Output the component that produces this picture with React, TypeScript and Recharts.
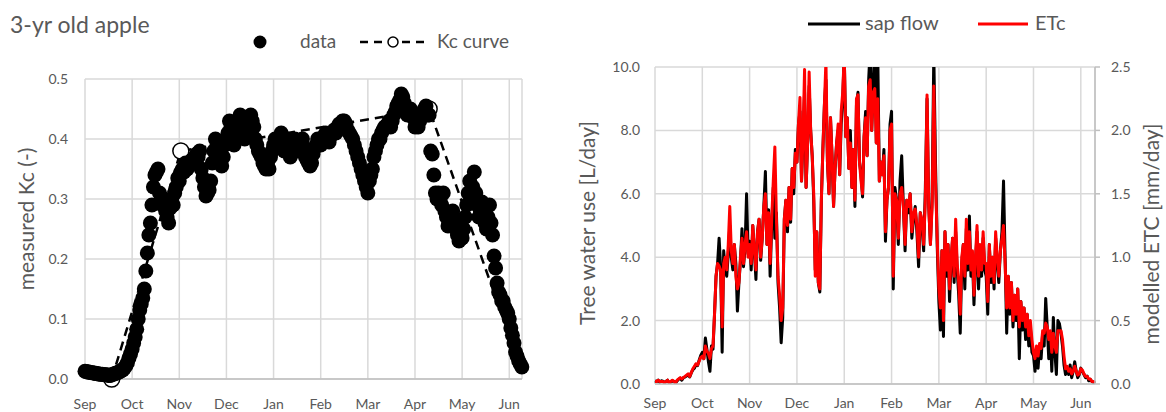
import React from 'react';
import { ComposedChart, Scatter, Line, XAxis, YAxis, CartesianGrid } from 'recharts';

// season runs from 1 Sep to early Jun, one value per day
const MONTHS = ['Sep', 'Oct', 'Nov', 'Dec', 'Jan', 'Feb', 'Mar', 'Apr', 'May', 'Jun'];
const MONTH_LENGTH = [30, 31, 30, 31, 31, 28, 31, 30, 31, 30];

// measured Kc (-), daily
const kcMeasured = [
  0.013, 0.012, 0.012, 0.011, 0.011, 0.010, 0.010, 0.009, 0.009, 0.008, 0.008, 0.008, 0.007, 0.007, 0.007, 0.006, 0.006, 0.007, 0.008, 0.009, 0.010, 0.011, 0.012, 0.014, 0.015, 0.018, 0.022, 0.027, 0.035, 0.042,
  0.050, 0.060, 0.070, 0.083, 0.100, 0.115, 0.125, 0.135, 0.150, 0.180, 0.210, 0.240, 0.260, 0.290, 0.320, 0.340, 0.345, 0.350, 0.310, 0.295, 0.290, 0.300, 0.280, 0.270, 0.260, 0.285, 0.300, 0.290, 0.310, 0.320, 0.335,
  0.330, 0.345, 0.350, 0.345, 0.360, 0.350, 0.355, 0.360, 0.365, 0.360, 0.370, 0.375, 0.370, 0.380, 0.350, 0.335, 0.320, 0.305, 0.310, 0.315, 0.330, 0.360, 0.380, 0.400, 0.390, 0.370, 0.360, 0.355, 0.370, 0.390,
  0.400, 0.410, 0.430, 0.420, 0.400, 0.390, 0.410, 0.420, 0.430, 0.440, 0.430, 0.420, 0.400, 0.410, 0.420, 0.435, 0.440, 0.430, 0.420, 0.400, 0.390, 0.380, 0.375, 0.370, 0.360, 0.355, 0.350, 0.360, 0.350, 0.370, 0.380,
  0.390, 0.400, 0.385, 0.390, 0.400, 0.410, 0.390, 0.380, 0.390, 0.400, 0.385, 0.370, 0.380, 0.395, 0.400, 0.390, 0.380, 0.385, 0.395, 0.400, 0.385, 0.370, 0.365, 0.360, 0.355, 0.360, 0.375, 0.385, 0.390, 0.400, 0.395,
  0.390, 0.400, 0.405, 0.410, 0.400, 0.395, 0.405, 0.410, 0.415, 0.410, 0.420, 0.425, 0.425, 0.430, 0.430, 0.425, 0.415, 0.410, 0.405, 0.400, 0.390, 0.380, 0.370, 0.360, 0.350, 0.340, 0.330, 0.320,
  0.310, 0.330, 0.340, 0.350, 0.370, 0.380, 0.390, 0.400, 0.400, 0.410, 0.415, 0.420, 0.420, 0.425, 0.430, 0.420, 0.430, 0.440, 0.445, 0.455, 0.460, 0.465, 0.475, 0.470, 0.460, 0.450, 0.440, 0.445, 0.450, 0.440, 0.435,
  0.420, 0.425, 0.420, 0.430, 0.440, 0.445, 0.450, 0.455, 0.440, 0.440, 0.380, 0.375, 0.340, 0.310, 0.300, 0.310, 0.300, 0.290, 0.310, 0.280, 0.270, 0.255, 0.260, 0.270, 0.280, 0.265, 0.250, 0.240, 0.230, 0.235,
  0.235, 0.250, 0.270, 0.290, 0.310, 0.330, 0.300, 0.320, 0.345, 0.310, 0.290, 0.270, 0.280, 0.295, 0.280, 0.260, 0.250, 0.270, 0.290, 0.260, 0.240, 0.205, 0.185, 0.160, 0.145, 0.140, 0.130, 0.130, 0.120, 0.115, 0.110,
  0.100, 0.085, 0.073, 0.060, 0.045, 0.038, 0.030, 0.025, 0.020,
];

// Kc curve break points: [month index, day of month], value
const kcCurveDates = [[0, 18], [2, 2], [7, 10], [9, 8]];
const kcCurveValues = [0.0, 0.38, 0.45, 0.02];

// tree water use from sap flow [L/day], daily
const sapFlow = [
  0.10, 0.08, 0.12, 0.06, 0.10, 0.09, 0.05, 0.08, 0.12, 0.04, 0.06, 0.10, 0.08, 0.03, 0.10, 0.15, 0.18, 0.12, 0.20, 0.22, 0.25, 0.30, 0.22, 0.35, 0.45, 0.50, 0.62, 0.58, 0.75, 0.90,
  1.00, 0.80, 1.45, 1.10, 0.70, 0.40, 1.20, 1.10, 2.20, 3.40, 3.80, 4.60, 3.70, 1.00, 4.20, 3.60, 3.40, 4.10, 5.00, 4.00, 3.60, 4.40, 3.80, 2.30, 3.20, 3.90, 4.90, 3.70, 4.30, 6.00, 4.10,
  4.50, 3.60, 5.00, 4.20, 3.30, 4.80, 5.20, 3.90, 4.60, 5.60, 6.70, 4.40, 5.50, 3.40, 5.00, 6.20, 4.60, 5.40, 3.20, 2.40, 1.30, 2.10, 5.20, 5.80, 4.80, 6.20, 5.10, 6.80, 6.00, 7.40,
  7.00, 8.20, 8.60, 6.40, 7.80, 9.20, 6.20, 7.60, 9.40, 8.00, 7.20, 5.80, 3.60, 4.80, 3.20, 2.90, 5.80, 7.40, 8.80, 9.60, 7.00, 6.00, 8.40, 7.20, 5.60, 6.80, 7.60, 8.00, 6.60, 8.20, 9.00,
  10.40, 7.80, 8.40, 6.80, 8.00, 6.20, 7.40, 5.60, 8.80, 9.20, 7.00, 6.60, 5.90, 7.80, 8.60, 7.20, 9.60, 10.60, 8.00, 9.40, 10.80, 7.60, 10.30, 6.40, 7.00, 6.60, 7.40, 4.50, 5.80, 6.20, 8.20,
  8.60, 3.00, 6.20, 5.80, 4.40, 6.40, 7.20, 5.60, 4.20, 5.80, 5.40, 6.00, 4.60, 5.20, 5.60, 4.80, 3.70, 5.40, 5.00, 4.20, 6.20, 9.00, 5.60, 4.40, 5.80, 10.40, 7.00, 4.40,
  2.60, 1.70, 4.20, 1.50, 4.80, 3.40, 4.40, 2.60, 3.80, 4.60, 3.20, 4.80, 3.60, 2.80, 1.60, 3.80, 4.40, 3.00, 4.90, 3.60, 5.30, 3.40, 4.00, 2.50, 3.80, 4.80, 3.00, 4.20, 3.40, 4.60, 3.60,
  3.40, 2.20, 4.40, 3.20, 4.00, 3.00, 4.60, 3.80, 3.20, 4.20, 4.80, 6.40, 4.00, 1.60, 3.40, 2.20, 3.20, 1.80, 2.80, 2.00, 3.00, 0.80, 2.60, 1.70, 2.40, 1.40, 2.20, 1.20, 1.80, 1.00,
  0.90, 0.40, 1.00, 0.50, 1.20, 0.80, 1.60, 1.20, 2.70, 1.80, 0.80, 1.60, 0.40, 2.10, 1.00, 0.30, 2.00, 1.90, 1.60, 1.20, 0.60, 0.30, 0.50, 0.30, 0.60, 0.20, 0.40, 0.70, 0.40, 0.20, 0.30,
  0.50, 0.40, 0.30, 0.20, 0.25, 0.10, 0.15, 0.08, 0.05, 0.02,
];

// modelled ETc [mm/day], daily
const etc = [
  0.02, 0.02, 0.03, 0.02, 0.02, 0.02, 0.01, 0.02, 0.03, 0.01, 0.02, 0.03, 0.02, 0.01, 0.03, 0.04, 0.05, 0.04, 0.05, 0.06, 0.07, 0.08, 0.06, 0.09, 0.12, 0.14, 0.16, 0.15, 0.18, 0.21,
  0.22, 0.20, 0.30, 0.26, 0.24, 0.20, 0.28, 0.30, 0.55, 0.85, 0.95, 0.93, 0.90, 0.45, 0.95, 1.00, 0.90, 1.10, 1.40, 1.05, 0.95, 1.10, 0.85, 0.75, 0.80, 1.00, 1.15, 0.95, 1.10, 1.20, 1.00,
  1.10, 0.95, 1.25, 1.05, 0.90, 1.20, 1.30, 1.00, 1.15, 1.40, 1.50, 1.10, 1.35, 0.95, 1.30, 1.60, 1.87, 1.30, 0.85, 0.70, 0.50, 0.60, 1.30, 1.45, 1.25, 1.55, 1.30, 1.70, 1.55, 1.82,
  1.75, 2.05, 2.26, 1.60, 1.95, 2.48, 1.55, 1.90, 2.46, 2.00, 1.80, 1.50, 0.85, 1.20, 0.80, 0.75, 1.45, 1.85, 2.20, 2.55, 1.75, 1.50, 2.10, 1.80, 1.40, 1.70, 1.90, 2.05, 1.65, 2.15, 2.30,
  2.60, 1.95, 2.10, 1.70, 1.90, 1.55, 1.85, 1.45, 2.25, 2.28, 1.75, 1.60, 1.50, 1.95, 2.10, 1.80, 2.35, 2.40, 2.00, 2.30, 2.33, 1.90, 2.25, 1.60, 1.75, 1.65, 1.80, 1.20, 1.45, 1.55, 2.00,
  2.05, 0.85, 1.50, 1.45, 1.15, 1.50, 1.55, 1.40, 1.10, 1.45, 1.40, 1.50, 1.20, 1.35, 1.38, 1.25, 1.00, 1.35, 1.30, 1.10, 1.45, 2.28, 1.40, 1.10, 1.40, 2.35, 1.60, 1.15,
  0.75, 0.60, 1.05, 0.50, 1.20, 0.90, 1.10, 0.75, 1.00, 1.15, 0.85, 1.30, 0.95, 0.80, 0.55, 1.00, 1.10, 0.85, 1.30, 0.95, 1.20, 0.90, 1.05, 0.70, 1.00, 1.25, 0.85, 1.10, 0.90, 1.20, 0.95,
  0.95, 0.65, 1.10, 0.85, 1.00, 0.80, 1.20, 1.00, 0.85, 1.05, 1.15, 1.25, 0.95, 0.60, 0.85, 0.60, 0.80, 0.50, 0.70, 0.55, 0.75, 0.45, 0.65, 0.50, 0.60, 0.45, 0.55, 0.38, 0.50, 0.35,
  0.25, 0.20, 0.30, 0.22, 0.32, 0.28, 0.42, 0.40, 0.48, 0.45, 0.35, 0.42, 0.25, 0.40, 0.30, 0.25, 0.42, 0.42, 0.42, 0.35, 0.22, 0.12, 0.14, 0.10, 0.12, 0.08, 0.10, 0.14, 0.10, 0.07, 0.08,
  0.12, 0.11, 0.08, 0.06, 0.06, 0.04, 0.04, 0.02, 0.02, 0.01,
];

const monthTicks = [0, 1, 2, 3, 4, 5, 6, 7, 8, 9];
const kcTicks = [0, 0.1, 0.2, 0.3, 0.4, 0.5];
const waterTicks = [0, 2, 4, 6, 8, 10];
const etcTicks = [0, 0.5, 1, 1.5, 2, 2.5];

// date -> position on a month axis (each month the same width, like the source)
const dayPos = (m: number, d: number) => m + (d - 1) / MONTH_LENGTH[m];
const seasonPos: number[] = [];
MONTH_LENGTH.forEach((len, m) => {
  for (let d = 1; d <= len; d++) seasonPos.push(dayPos(m, d));
});

const kcRows = kcMeasured.map((kc, i) => ({ x: seasonPos[i], kc }));
const curveRows = kcCurveDates.map(([m, d], i) => ({ x: dayPos(m, d), kc: kcCurveValues[i] }));
const flowRows = sapFlow.map((sap, i) => ({ x: seasonPos[i], sap, etc: etc[i] }));

const FONT = 'Lato, "Open Sans", sans-serif';
const GREY = '#595959';
const GRID = '#d9d9d9';
const AXIS = '#bfbfbf';
const tickStyle = { fill: GREY, fontSize: 14, fontFamily: FONT };

export default function App() {
  return (
    <div style={{ position: 'absolute', left: 0, top: 0, width: 1166, height: 412, background: '#fff', fontFamily: FONT }}>
      <div style={{ position: 'absolute', left: 0, top: 0 }}>
        <ComposedChart width={560} height={412} margin={{ top: 79, right: 38, bottom: 0, left: 0 }}>
          <CartesianGrid stroke={GRID} strokeWidth={1.5} />
          <XAxis
            type="number"
            dataKey="x"
            domain={[0, 9.27]}
            ticks={monthTicks}
            interval={0}
            tickFormatter={(v) => MONTHS[v]}
            height={33}
            tickSize={0}
            tickMargin={20}
            axisLine={{ stroke: AXIS, strokeWidth: 1.5 }}
            tick={tickStyle}
          />
          <YAxis
            type="number"
            domain={[0, 0.5]}
            ticks={kcTicks}
            interval={0}
            width={85}
            tickSize={0}
            tickMargin={17}
            axisLine={false}
            tickFormatter={(v) => v.toFixed(1)}
            tick={tickStyle}
          />
          <Line
            data={curveRows}
            dataKey="kc"
            type="linear"
            stroke="#000"
            strokeWidth={2.5}
            strokeDasharray="9 6"
            isAnimationActive={false}
            dot={(p: any) =>
              p.index < kcCurveValues.length - 1 ? (
                <circle key={`kd-${p.index}`} cx={p.cx} cy={p.cy} r={8} fill="#fff" stroke="#000" strokeWidth={1.5} />
              ) : (
                <g key={`kd-${p.index}`} />
              )
            }
          />
          <Scatter
            data={kcRows}
            dataKey="kc"
            isAnimationActive={false}
            shape={(p: any) => <circle cx={p.cx} cy={p.cy} r={7.5} fill="#000" />}
          />
        </ComposedChart>
      </div>

      <div style={{ position: 'absolute', left: 560, top: 0 }}>
        <ComposedChart width={606} height={412} data={flowRows} margin={{ top: 67, right: 0, bottom: 0, left: 0 }}>
          <CartesianGrid yAxisId="left" stroke={GRID} strokeWidth={1.5} />
          <XAxis
            type="number"
            dataKey="x"
            domain={[0, 9.3]}
            ticks={monthTicks}
            interval={0}
            tickFormatter={(v) => MONTHS[v]}
            height={28}
            tickSize={0}
            tickMargin={14}
            axisLine={{ stroke: AXIS, strokeWidth: 1.5 }}
            tick={tickStyle}
          />
          <YAxis
            yAxisId="left"
            type="number"
            domain={[0, 10]}
            allowDataOverflow
            ticks={waterTicks}
            interval={0}
            width={95}
            tickSize={0}
            tickMargin={15}
            axisLine={false}
            tickFormatter={(v) => v.toFixed(1)}
            tick={tickStyle}
          />
          <YAxis
            yAxisId="right"
            orientation="right"
            type="number"
            domain={[0, 2.5]}
            allowDataOverflow
            ticks={etcTicks}
            interval={0}
            width={71}
            tickSize={5}
            tickMargin={11}
            axisLine={{ stroke: AXIS, strokeWidth: 1.5 }}
            tickLine={{ stroke: AXIS, strokeWidth: 1.5 }}
            tickFormatter={(v) => v.toFixed(1)}
            tick={tickStyle}
          />
          <Line
            yAxisId="left"
            dataKey="sap"
            type="linear"
            stroke="#000"
            strokeWidth={3}
            strokeLinejoin="round"
            dot={false}
            isAnimationActive={false}
          />
          <Line
            yAxisId="right"
            dataKey="etc"
            type="linear"
            stroke="#ff0000"
            strokeWidth={3}
            strokeLinejoin="round"
            dot={false}
            isAnimationActive={false}
          />
        </ComposedChart>
      </div>

      <svg
        width={1166}
        height={412}
        style={{ position: 'absolute', left: 0, top: 0, pointerEvents: 'none' }}
        fontFamily={FONT}
        fill={GREY}
      >
        <text x={10} y={33} fontSize={23}>3-yr old apple</text>

        <circle cx={260} cy={42} r={6.5} fill="#000" />
        <text x={300} y={48} fontSize={19}>data</text>
        <line x1={360} y1={42} x2={426} y2={42} stroke="#000" strokeWidth={2.5} strokeDasharray="8 6" />
        <circle cx={393} cy={42} r={5} fill="#fff" stroke="#000" strokeWidth={1.5} />
        <text x={437} y={48} fontSize={19}>Kc curve</text>

        <text transform="translate(27,219) rotate(-90)" textAnchor="middle" dy="0.35em" fontSize={21}>
          measured Kc (-)
        </text>

        <line x1={808} y1={24} x2={860} y2={24} stroke="#000" strokeWidth={3} />
        <text x={865} y={30} fontSize={20}>sap flow</text>
        <line x1={978} y1={24} x2={1028} y2={24} stroke="#ff0000" strokeWidth={3} />
        <text x={1035} y={30} fontSize={20}>ETc</text>

        <text transform="translate(588,223) rotate(-90)" textAnchor="middle" dy="0.35em" fontSize={21}>
          Tree water use [L/day]
        </text>
        <text transform="translate(1152,234) rotate(-90)" textAnchor="middle" dy="0.35em" fontSize={21}>
          modelled ETC [mm/day]
        </text>
      </svg>
    </div>
  );
}
